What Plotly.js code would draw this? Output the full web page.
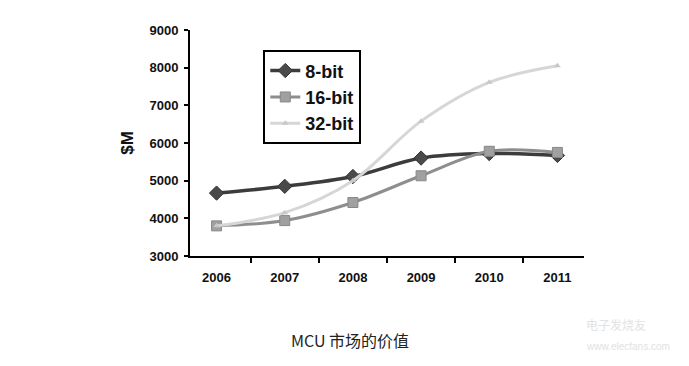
<!DOCTYPE html>
<html><head><meta charset="utf-8">
<script src="https://cdn.plot.ly/plotly-3.0.1.min.js"></script>
<style>html,body{margin:0;padding:0;background:#fff;}</style>
</head><body>
<div id="chart" style="width:689px;height:366px;"></div>
<script>
const years = ['2006','2007','2008','2009','2010','2011'];
const bit8 = [4670, 4850, 5110, 5600, 5720, 5670];
const bit16 = [3800, 3940, 4420, 5130, 5780, 5750];
const bit32 = [3800, 4150, 5000, 6580, 7610, 8050];
const seriesNames = ['8-bit', '16-bit', '32-bit'];
const yTicks = [3000, 4000, 5000, 6000, 7000, 8000, 9000];

const traces = [
  {x: years, y: bit8, name: seriesNames[0], type: 'scatter', mode: 'lines+markers',
   line: {color: '#3c3c3c', width: 3.5, shape: 'spline'},
   marker: {symbol: 'diamond', size: 11, color: '#4a4a4a', line: {color: '#333', width: 1}}},
  {x: years, y: bit16, name: seriesNames[1], type: 'scatter', mode: 'lines+markers',
   line: {color: '#8e8e8e', width: 3, shape: 'spline'},
   marker: {symbol: 'square', size: 10, color: '#a0a0a0', line: {color: '#888', width: 1}}},
  {x: years, y: bit32, name: seriesNames[2], type: 'scatter', mode: 'lines+markers',
   line: {color: '#d6d6d6', width: 3, shape: 'spline'},
   marker: {symbol: 'triangle-up', size: 6, color: '#c8c8c8'}}
];

const layout = {
  width: 689, height: 366,
  margin: {l: 190, r: 105, t: 30, b: 110},
  paper_bgcolor: '#fff', plot_bgcolor: '#fff',
  showlegend: true,
  legend: {x: 0.186, y: 0.91, xanchor: 'left', yanchor: 'top',
    bgcolor: '#fff', bordercolor: '#000', borderwidth: 2,
    font: {family: 'Liberation Sans, Arial, sans-serif', size: 18, color: '#111', weight: 'bold'},
    itemwidth: 30, tracegroupgap: 0},
  xaxis: {type: 'category', showline: true, linecolor: '#000', linewidth: 2,
    ticks: 'outside', tickson: 'boundaries', ticklen: 5, tickwidth: 2, tickcolor: '#000',
    ticklabelstandoff: 8,
    showgrid: false, zeroline: false,
    tickfont: {family: 'Liberation Sans, Arial, sans-serif', size: 13, color: '#111', weight: 'bold'}},
  yaxis: {range: [3000, 9000], tickvals: yTicks, showline: true, linecolor: '#000', linewidth: 2,
    ticks: 'outside', ticklen: 4, tickwidth: 2, tickcolor: '#000',
    ticklabelstandoff: 3,
    showgrid: false, zeroline: false,
    tickfont: {family: 'Liberation Sans, Arial, sans-serif', size: 13, color: '#111', weight: 'bold'},
    title: {text: '$M', standoff: 12, font: {family: 'Liberation Sans, Arial, sans-serif', size: 17, color: '#111', weight: 'bold'}}},
  annotations: [
    {text: 'MCU 市场的价值', xref: 'paper', yref: 'paper', x: 0.405, y: -0.37,
     xanchor: 'center', yanchor: 'middle', showarrow: false,
     font: {family: 'Noto Sans CJK SC, Noto Sans, sans-serif', size: 16, color: '#222'}},
    {text: '电子发烧友', xref: 'paper', yref: 'paper', x: 1.0, y: -0.305,
     xanchor: 'left', yanchor: 'middle', showarrow: false,
     font: {family: 'Noto Sans CJK SC, sans-serif', size: 12, color: '#e2e2e2'}},
    {text: 'www.elecfans.com', xref: 'paper', yref: 'paper', x: 1.0, y: -0.4,
     xanchor: 'left', yanchor: 'middle', showarrow: false,
     font: {family: 'Liberation Sans, sans-serif', size: 10, color: '#e2e2e2'}}
  ]
};

Plotly.newPlot('chart', traces, layout, {displayModeBar: false, staticPlot: true});
</script>
</body></html>
